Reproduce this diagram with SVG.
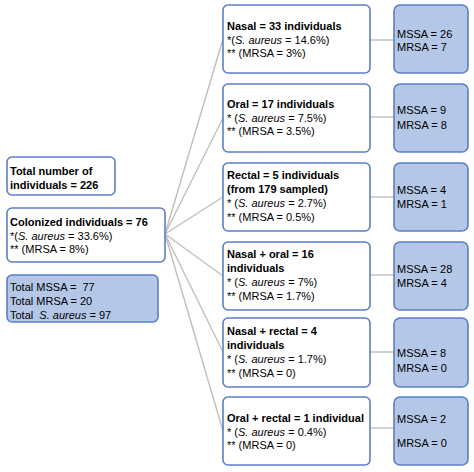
<svg xmlns="http://www.w3.org/2000/svg" width="474" height="472" viewBox="0 0 474 472">
<style>
.box{fill:#ffffff;stroke:#5b7fc6;stroke-width:1.6}
.fbox{fill:#b4c7e7;stroke:#5b7fc6;stroke-width:1.6}
text{font-family:"Liberation Sans",Arial,sans-serif;font-size:11px;fill:#000;white-space:pre}
.b{font-weight:bold}
.i{font-style:italic}
.con line{stroke:#bfbfbf;stroke-width:1.4}
</style>
<rect width="474" height="472" fill="#ffffff"/>
<g class="con" id="connectors">
<line x1="165" y1="234" x2="223" y2="39"/>
<line x1="165" y1="234" x2="223" y2="118"/>
<line x1="165" y1="234" x2="223" y2="197"/>
<line x1="165" y1="234" x2="223" y2="276"/>
<line x1="165" y1="234" x2="223" y2="352"/>
<line x1="165" y1="234" x2="223" y2="431"/>
<line x1="370" y1="40" x2="394" y2="40"/>
<line x1="370" y1="117" x2="394" y2="117"/>
<line x1="370" y1="197" x2="394" y2="197"/>
<line x1="370" y1="275" x2="394" y2="275"/>
<line x1="370" y1="352" x2="394" y2="352"/>
<line x1="370" y1="428" x2="394" y2="428"/>
</g>
<g id="total">
<rect class="box" x="7" y="157" width="108" height="38" rx="5"/>
<text class="b" x="10" y="175">Total number of</text>
<text class="b" x="10" y="189">individuals = 226</text>
</g>
<g id="colonized">
<rect class="box" x="7" y="208" width="158" height="54" rx="5"/>
<text class="b" x="10" y="226">Colonized individuals = 76</text>
<text x="10" y="240">*(<tspan class="i">S. aureus</tspan> = 33.6%)</text>
<text x="10" y="253">** (MRSA = 8%)</text>
</g>
<g id="totals">
<rect class="fbox" x="7" y="275" width="151" height="47" rx="5"/>
<text x="10" y="291" xml:space="preserve">Total MSSA =  77</text>
<text x="10" y="305">Total MRSA = 20</text>
<text x="10" y="319" xml:space="preserve">Total  <tspan class="i">S. aureus</tspan> = 97</text>
</g>
<g id="nasal">
<rect class="box" x="223" y="5" width="147" height="68" rx="5"/>
<text class="b" x="227" y="30">Nasal = 33 individuals</text>
<text x="227" y="44">*(<tspan class="i">S. aureus</tspan> = 14.6%)</text>
<text x="227" y="57">** (MRSA = 3%)</text>
</g>
<g id="oral">
<rect class="box" x="223" y="84" width="147" height="68" rx="5"/>
<text class="b" x="227" y="108">Oral = 17 individuals</text>
<text x="227" y="122">* (<tspan class="i">S. aureus</tspan> = 7.5%)</text>
<text x="227" y="135">** (MRSA = 3.5%)</text>
</g>
<g id="rectal">
<rect class="box" x="223" y="163" width="147" height="68" rx="5"/>
<text class="b" x="227" y="179">Rectal = 5 individuals</text>
<text class="b" x="227" y="193">(from 179 sampled)</text>
<text x="227" y="207">* (<tspan class="i">S. aureus</tspan> = 2.7%)</text>
<text x="227" y="221">** (MRSA = 0.5%)</text>
</g>
<g id="nasal-oral">
<rect class="box" x="223" y="242" width="147" height="68" rx="5"/>
<text class="b" x="227" y="258">Nasal + oral = 16</text>
<text class="b" x="227" y="272">individuals</text>
<text x="227" y="286">* (<tspan class="i">S. aureus</tspan> = 7%)</text>
<text x="227" y="300">** (MRSA = 1.7%)</text>
</g>
<g id="nasal-rectal">
<rect class="box" x="223" y="318" width="147" height="69" rx="5"/>
<text class="b" x="227" y="335">Nasal + rectal = 4</text>
<text class="b" x="227" y="349">individuals</text>
<text x="227" y="363">* (<tspan class="i">S. aureus</tspan> = 1.7%)</text>
<text x="227" y="377">** (MRSA = 0)</text>
</g>
<g id="oral-rectal">
<rect class="box" x="223" y="397" width="147" height="68" rx="5"/>
<text class="b" x="227" y="422">Oral + rectal = 1 individual</text>
<text x="227" y="436">* (<tspan class="i">S. aureus</tspan> = 0.4%)</text>
<text x="227" y="449">** (MRSA = 0)</text>
</g>
<g id="r-nasal">
<rect class="fbox" x="394" y="5" width="74" height="68" rx="6"/>
<text x="397" y="38">MSSA = 26</text>
<text x="397" y="51">MRSA = 7</text>
</g>
<g id="r-oral">
<rect class="fbox" x="394" y="84" width="74" height="68" rx="6"/>
<text x="397" y="114">MSSA = 9</text>
<text x="397" y="129">MRSA = 8</text>
</g>
<g id="r-rectal">
<rect class="fbox" x="394" y="163" width="74" height="68" rx="6"/>
<text x="397" y="194">MSSA = 4</text>
<text x="397" y="208">MRSA = 1</text>
</g>
<g id="r-nasal-oral">
<rect class="fbox" x="394" y="242" width="74" height="68" rx="6"/>
<text x="397" y="273">MSSA = 28</text>
<text x="397" y="287">MRSA = 4</text>
</g>
<g id="r-nasal-rectal">
<rect class="fbox" x="394" y="318" width="74" height="69" rx="6"/>
<text x="397" y="357">MSSA = 8</text>
<text x="397" y="372">MRSA = 0</text>
</g>
<g id="r-oral-rectal">
<rect class="fbox" x="394" y="397" width="74" height="68" rx="6"/>
<text x="397" y="423">MSSA = 2</text>
<text x="397" y="447">MRSA = 0</text>
</g>
</svg>
